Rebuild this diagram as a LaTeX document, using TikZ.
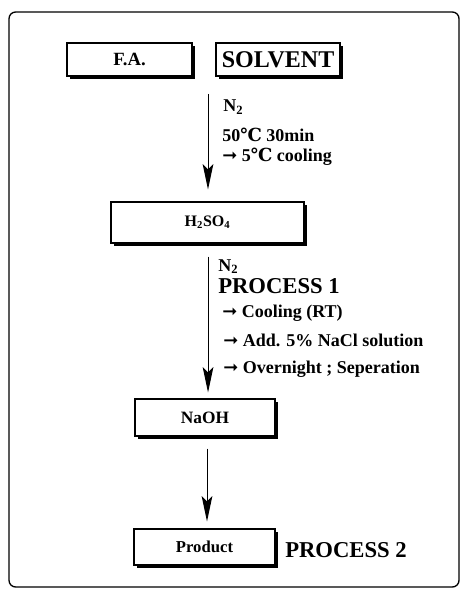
\documentclass[tikz,border=0pt]{standalone}
\usepackage{fontspec}
\setmainfont{Liberation Serif}
\newfontfamily\degfont{DejaVu Serif}
\newfontfamily\arrfont{DejaVu Sans}
\usetikzlibrary{arrows.meta,shadows}
\newcommand{\degC}{{\degfont ℃}}
\newcommand{\toarr}{{\normalfont\arrfont ➞}}

\tikzset{
  box/.style={draw, fill=white, line width=0.8pt, inner sep=0pt, font=\bfseries,
    drop shadow={shadow xshift=2.2pt, shadow yshift=-2.2pt, fill=black, opacity=1}},
  flow/.style={line width=0.75pt, -{Stealth[length=19pt,width=8pt,inset=4pt]}},
  note/.style={anchor=base west, inner sep=0pt, font=\bfseries\fontsize{13.5}{15}\selectfont},
}

\begin{document}
\begin{tikzpicture}[x=0.75pt,y=0.75pt,yscale=-1,xscale=1]

\useasboundingbox (0,0) rectangle (461,591);

\draw [line width=1pt, rounded corners=5pt] (9,12) rectangle (459,587) ;

\node [box, minimum width=93.75pt, minimum height=24.75pt, font=\bfseries\fontsize{14}{16}\selectfont] (fa) at (129.5,59.5) {F.A.};

\node [box, minimum width=93pt, minimum height=24.75pt, font=\bfseries\fontsize{18}{20}\selectfont] (solv) at (278,59.5) {SOLVENT};

\node [box, minimum width=144.75pt, minimum height=30.75pt, font=\bfseries\fontsize{12}{14}\selectfont] (acid) at (207.5,222.5) {H\textsubscript{2}SO\textsubscript{4}};

\node [box, minimum width=105pt, minimum height=27.75pt, font=\bfseries\fontsize{13}{15}\selectfont] (base) at (205,417.5) {NaOH};

\node [box, minimum width=105.75pt, minimum height=27pt, font=\bfseries\fontsize{12.5}{14}\selectfont] (prod) at (204.5,547) {Product};

\coordinate (mix) at (208,94) ;

\draw [flow] (mix) -- (mix |- acid.north) [shorten >=9pt] ;

\draw [flow, shorten <=9.75pt, shorten >=4.5pt] ([xshift=0.4pt]acid.south) -- ([xshift=0.4pt]acid.south |- base.north) ;

\draw [flow, shorten <=9pt, shorten >=5.25pt] ([xshift=1.5pt]base.south) -- ([xshift=1.5pt]base.south |- prod.north) ;

\node [note] (n1) at (223,112) {N\textsubscript{2}};

\node [note] (t1) at (222,142) {50\degC\ 30min};

\node [note] (t2) at (222,162) {\toarr\ 5\degC\ cooling};

\node [note] (n2) at (218,271) {N\textsubscript{2}};

\node [note, font=\bfseries\fontsize{17}{20}\selectfont] (p1) at (218,293) {PROCESS 1};

\node [note] (s1) at (222,317) {\toarr\ Cooling (RT)};

\node [note] (s2) at (223,346) {\toarr\ Add. 5\% NaCl solution};

\node [note] (s3) at (223,373) {\toarr\ Overnight ; Seperation};

\node [note, font=\bfseries\fontsize{17}{20}\selectfont] (p2) at (285,557) {PROCESS 2};

\end{tikzpicture}
\end{document}
